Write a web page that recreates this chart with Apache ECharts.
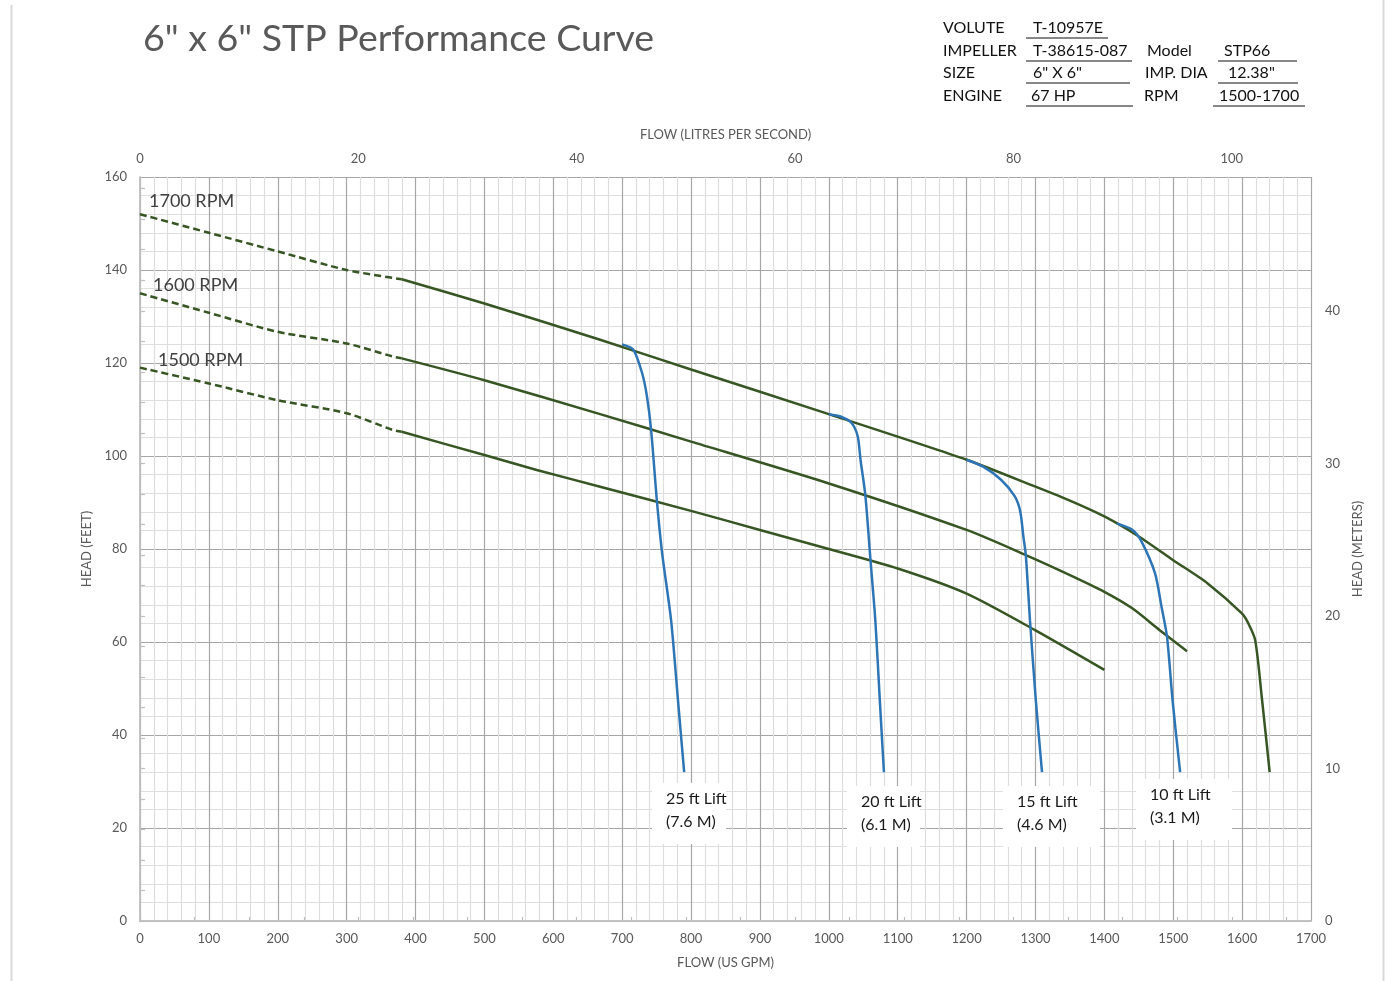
<!DOCTYPE html>
<html>
<head>
<meta charset="utf-8">
<script src="https://cdn.jsdelivr.net/npm/echarts@6/dist/echarts.min.js"></script>
<style>
html,body{margin:0;padding:0;background:#fff;}
#chart{width:1385px;height:981px;}
</style>
</head>
<body>
<div id="chart"></div>
<script>
// ---- Data (flow in US GPM, head in feet) ----
const rpm1700Dashed = [[0,152],[100,148],[200,144],[300,140],[380,138]];
const rpm1700Solid = [[380,138],[500,132.8],[668,125],[800,118.6],[1000,109],[1200,99.2],[1300,93.4],[1350,90.4],[1400,87],[1450,82.7],[1500,77.6],[1550,72.6],[1600,66.1],[1609,64],[1619,60.4],[1629,47.5],[1640,32]];
const rpm1600Dashed = [[0,135],[100,130.8],[200,126.7],[300,124.2],[367,121.4],[380,121]];
const rpm1600Solid = [[380,121],[500,116.3],[668,109],[800,103.1],[1000,94.1],[1200,84.1],[1286,78.7],[1350,74.4],[1400,70.8],[1440,67.3],[1480,62.6],[1520,58]];
const rpm1500Dashed = [[0,119],[100,115.6],[200,112],[300,109.2],[367,105.6],[380,105.2]];
const rpm1500Solid = [[380,105.2],[500,100.2],[576,97],[668,93.4],[800,88.2],[900,84.1],[1000,80],[1100,75.8],[1200,70.4],[1300,62.5],[1400,54]];
const lift25 = [[700,124],[716,122.9],[729,117.8],[736,112.8],[742,105.6],[750.5,90.2],[758,79.1],[771,64.7],[781,47.5],[790,32]];
const lift20 = [[1000,109],[1017,108.5],[1033,107.1],[1042,104.2],[1046,99.2],[1053,91.6],[1060.5,77.6],[1067.5,64.7],[1074,47.5],[1080,32]];
const lift15 = [[1200,99.2],[1224,97.7],[1250,94.9],[1270,91.3],[1278,88],[1282.5,82.6],[1286,78.7],[1292,64.7],[1300.5,47.5],[1309.5,32]];
const lift10 = [[1418,85.5],[1441,84.1],[1454,81.6],[1473.5,74.8],[1483,67.6],[1491,61.1],[1499,47.5],[1510,32]];

const rpmLabels = ['1700 RPM','1600 RPM','1500 RPM'];
const liftLabels = [['25 ft Lift','(7.6 M)'],['20 ft Lift','(6.1 M)'],['15 ft Lift','(4.6 M)'],['10 ft Lift','(3.1 M)']];
const titleText = '6" x 6" STP Performance Curve';
const infoRows = [
  ['VOLUTE','T-10957E','',''],
  ['IMPELLER','T-38615-087','Model','STP66'],
  ['SIZE','6" X 6"','IMP. DIA','12.38"'],
  ['ENGINE','67 HP','RPM','1500-1700']
];
const GPM_PER_LPS = 15.850323;
const FT_PER_M = 3.28084;

// ---- Chart ----
const FONT = 'Lato, "Open Sans", sans-serif';
const GREEN = '#375623';
const BLUE = '#2E75B6';
const chart = echarts.init(document.getElementById('chart'));

function greenSeries(data, dashed){
  return {type:'line', data:data, xAxisIndex:0, yAxisIndex:0, showSymbol:false, smooth:0.25,
    lineStyle:{color:GREEN, width:2.5, type: dashed ? [7,4] : 'solid'}, silent:true, z:3};
}
function blueSeries(data){
  return {type:'line', data:data, xAxisIndex:0, yAxisIndex:0, showSymbol:false, smooth:0.25,
    lineStyle:{color:BLUE, width:2.5}, silent:true, z:4};
}

const graphics = [];
// borders
graphics.push({type:'line', shape:{x1:11.5,y1:5,x2:11.5,y2:981}, style:{stroke:'#d9d9d9', lineWidth:2}});
graphics.push({type:'line', shape:{x1:1383.5,y1:0,x2:1383.5,y2:981}, style:{stroke:'#d9d9d9', lineWidth:2}});
// title
graphics.push({type:'text', left:143, top:20, style:{text:titleText, font:'37.5px '+FONT, fill:'#595959'}});
// info table
const rowY = [28,51,73,96];
const c1 = [943,943,943,943];
const c2 = [1033,1033,1033,1031];
const c3 = [0,1147,1145,1144];
const c4 = [0,1224,1228,1219];
const u2 = [[1026,1108],[1026,1132],[1026,1130],[1026,1133]];
const u4 = [null,[1218,1297],[1218,1298],[1213,1305]];
infoRows.forEach((r,i)=>{
  const st = (t,x)=>({type:'text', x:x, y:rowY[i], style:{text:t, font:'16px '+FONT, fill:'#111', textVerticalAlign:'middle'}});
  graphics.push(st(r[0],c1[i]));
  graphics.push(st(r[1],c2[i]));
  graphics.push({type:'line', shape:{x1:u2[i][0],y1:rowY[i]+10,x2:u2[i][1],y2:rowY[i]+10}, style:{stroke:'#111', lineWidth:1}});
  if (r[2]) {
    graphics.push(st(r[2],c3[i]));
    graphics.push(st(r[3],c4[i]));
    graphics.push({type:'line', shape:{x1:u4[i][0],y1:rowY[i]+10,x2:u4[i][1],y2:rowY[i]+10}, style:{stroke:'#111', lineWidth:1}});
  }
});
// RPM labels
const rpmPos = [[149,201],[153,285],[158,360]];
rpmLabels.forEach((t,i)=>{
  graphics.push({type:'text', x:rpmPos[i][0], y:rpmPos[i][1], z:10, style:{text:t, font:'18px '+FONT, fill:'#404040', textVerticalAlign:'middle'}});
});
// Lift labels
const liftBox = [[652,783,74,61],[847,786,73,61],[1003,786,97,61],[1136,779,96,61]];
const liftText = [[666,799],[861,802],[1017,802],[1150,795]];
liftLabels.forEach((l,i)=>{
  const b = liftBox[i];
  graphics.push({type:'rect', z:10, shape:{x:b[0],y:b[1],width:b[2],height:b[3]}, style:{fill:'#fff'}});
  graphics.push({type:'text', z:11, x:liftText[i][0], y:liftText[i][1], style:{text:l[0], font:'16px '+FONT, fill:'#1a1a1a', textVerticalAlign:'middle'}});
  graphics.push({type:'text', z:11, x:liftText[i][0], y:liftText[i][1]+23, style:{text:l[1], font:'16px '+FONT, fill:'#1a1a1a', textVerticalAlign:'middle'}});
});

const axisLineStyle = {show:true, lineStyle:{color:'#bfbfbf', width:1.5}};
const labelStyle = {color:'#595959', fontSize:13, fontFamily:FONT};
const nameStyle = {color:'#595959', fontSize:13, fontFamily:FONT};

function onlyMultiples(step){
  return function(v){
    const r = Math.round(v);
    if (Math.abs(v - r) > 1e-6) return '';
    return (r % step === 0) ? String(r) : '';
  };
}
const plain = v => String(v);

const option = {
  animation:false,
  backgroundColor:'#fff',
  grid:{left:140, right:74, top:177, bottom:60, containLabel:false},
  xAxis:[
    {type:'value', position:'bottom', min:0, max:1700, interval:100,
     axisLine:axisLineStyle, axisTick:{show:false},
     axisLabel:Object.assign({margin:11, formatter:plain}, labelStyle),
     splitLine:{show:true, lineStyle:{color:'#a6a6a6', width:1.2}},
     minorTick:{show:false, splitNumber:5},
     minorSplitLine:{show:true, lineStyle:{color:'#dedede', width:1.2}},
     name:'FLOW (US GPM)', nameLocation:'middle', nameGap:35, nameTextStyle:nameStyle},
    {type:'value', position:'top', min:0, max:1700/GPM_PER_LPS, interval:5,
     axisLine:axisLineStyle, axisTick:{show:true, inside:false, length:4, lineStyle:{color:'#bfbfbf', width:1.2}},
     axisLabel:Object.assign({margin:12, formatter:onlyMultiples(20), showMaxLabel:false}, labelStyle),
     splitLine:{show:false},
     name:'FLOW (LITRES PER SECOND)', nameLocation:'middle', nameGap:36, nameTextStyle:nameStyle}
  ],
  yAxis:[
    {type:'value', position:'left', min:0, max:160, interval:20,
     axisLine:axisLineStyle, axisTick:{show:false},
     axisLabel:Object.assign({margin:13, formatter:plain}, labelStyle),
     splitLine:{show:true, lineStyle:{color:'#a6a6a6', width:1.2}},
     minorTick:{show:false, splitNumber:5},
     minorSplitLine:{show:true, lineStyle:{color:'#dedede', width:1.2}},
     name:'HEAD (FEET)', nameLocation:'middle', nameGap:46, nameRotate:90, nameTextStyle:nameStyle},
    {type:'value', position:'right', min:0, max:160/FT_PER_M, interval:2,
     axisLine:axisLineStyle, axisTick:{show:true, inside:false, length:5, lineStyle:{color:'#bfbfbf', width:1.2}},
     axisLabel:Object.assign({margin:14, formatter:onlyMultiples(10), showMaxLabel:false}, labelStyle),
     splitLine:{show:false},
     name:'HEAD (METERS)', nameLocation:'middle', nameGap:40, nameRotate:90, nameTextStyle:nameStyle}
  ],
  series:[
    greenSeries(rpm1700Dashed,true), greenSeries(rpm1700Solid,false),
    greenSeries(rpm1600Dashed,true), greenSeries(rpm1600Solid,false),
    greenSeries(rpm1500Dashed,true), greenSeries(rpm1500Solid,false),
    blueSeries(lift25), blueSeries(lift20), blueSeries(lift15), blueSeries(lift10)
  ],
  graphic:graphics
};
chart.setOption(option);
</script>
</body>
</html>
